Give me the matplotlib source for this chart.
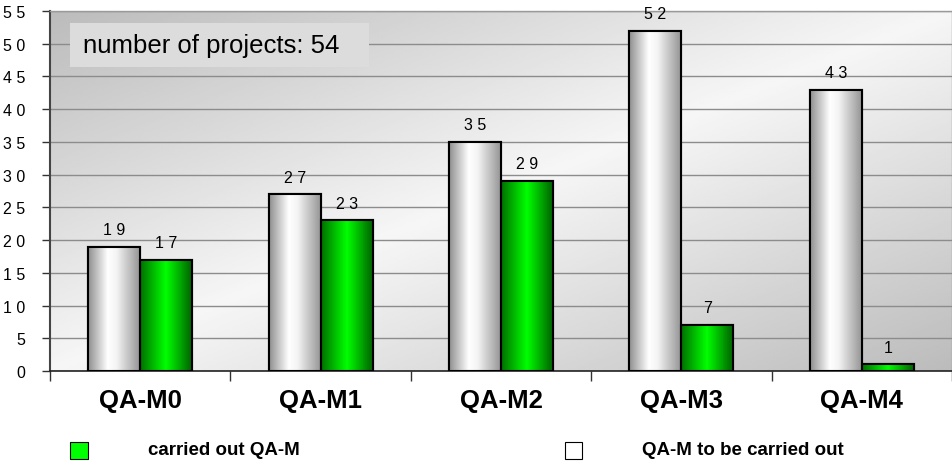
import numpy as np
import matplotlib
matplotlib.use("Agg")
import matplotlib.pyplot as plt
from matplotlib.colors import LinearSegmentedColormap
from matplotlib.patches import Rectangle

categories = ["QA-M0", "QA-M1", "QA-M2", "QA-M3", "QA-M4"]
to_be_carried = [19, 27, 35, 52, 43]
carried_out = [17, 23, 29, 7, 1]
yticks = [0, 5, 10, 15, 20, 25, 30, 35, 40, 45, 50, 55]
label_to_be = "QA-M to be carried out"
label_carried = "carried out QA-M"
info_text = "number of projects: 54"

plt.rcParams['font.family'] = ['Liberation Sans', 'DejaVu Sans']

fig = plt.figure(figsize=(9.53, 4.64), dpi=100)
ax = fig.add_axes([50/953, 1-372/464, 902/953, 360/464])
n = len(categories)
ax.set_xlim(-0.5, n - 0.5)
ax.set_ylim(0, 55)

# background diagonal gradient
xx, yy = np.meshgrid(np.linspace(0, 1, 300), np.linspace(0, 1, 200))
d = np.abs(xx + yy - 1.0)
bg = 0.965 - 0.23 * d
ax.imshow(bg, cmap='gray', vmin=0, vmax=1, extent=(0, 1, 0, 1), transform=ax.transAxes,
          aspect='auto', zorder=0, origin='upper', interpolation='bilinear')

ax.set_yticks(yticks)
ax.set_yticklabels([" ".join(str(v)) for v in yticks], fontsize=11.5)
ax.yaxis.grid(True, color='#8c8c8c', linewidth=1.0, zorder=1)
ax.set_axisbelow(True)
ax.tick_params(axis='y', length=6, width=1, pad=12, color='#333333')

ax.set_xticks(np.arange(n))
ax.set_xticklabels(categories, fontsize=18.5, fontweight='bold')
ax.tick_params(axis='x', length=0, pad=12)
ax.set_xticks(np.arange(n + 1) - 0.5, minor=True)
ax.tick_params(axis='x', which='minor', length=7, width=1, color='#333333')

for s in ['top', 'right']:
    ax.spines[s].set_color('#9a9a9a')
    ax.spines[s].set_linewidth(1.0)
ax.spines['left'].set_color('#444444')
ax.spines['left'].set_linewidth(1.5)
ax.spines['bottom'].set_color('#222222')
ax.spines['bottom'].set_linewidth(1.2)

w = 0.288
x = np.arange(n)
gray_cmap = LinearSegmentedColormap.from_list('g', [(0, '#8e8e8e'), (0.38, '#ffffff'), (0.55, '#f4f4f4'), (1, '#959595')])
green_cmap = LinearSegmentedColormap.from_list('gr', [(0, '#007000'), (0.5, '#00ff00'), (1, '#006200')])
grad = np.linspace(0, 1, 256).reshape(1, -1)

b1 = ax.bar(x - w/2, to_be_carried, width=w, color='white', edgecolor='black', linewidth=1.5, zorder=3, label=label_to_be)
b2 = ax.bar(x + w/2, carried_out, width=w, color='#00ff00', edgecolor='black', linewidth=1.5, zorder=3, label=label_carried)

for bars, cmap in ((b1, gray_cmap), (b2, green_cmap)):
    for r in bars:
        x0, y0 = r.get_x(), r.get_y()
        im = ax.imshow(grad, cmap=cmap, extent=(x0, x0 + r.get_width(), y0, y0 + r.get_height()),
                       aspect='auto', zorder=3.5, interpolation='bilinear')
        im.set_clip_path(r)
        edge = Rectangle((x0, y0), r.get_width(), r.get_height(), fill=False, edgecolor='black',
                         linewidth=1.5, zorder=4)
        ax.add_patch(edge)

for r, v in zip(b1, to_be_carried):
    ax.annotate(" ".join(str(v)), (r.get_x() + r.get_width()/2, v), xytext=(0, 7), textcoords='offset points',
                ha='center', va='bottom', fontsize=11.5, zorder=5)
for r, v in zip(b2, carried_out):
    ax.annotate(" ".join(str(v)), (r.get_x() + r.get_width()/2, v), xytext=(0, 7), textcoords='offset points',
                ha='center', va='bottom', fontsize=11.5, zorder=5)

ax.set_xlim(-0.5, n - 0.5)
ax.set_ylim(0, 55)

# info box
ax.add_patch(Rectangle((70/953, 1-68/464), 299/953, 44/464, transform=fig.transFigure,
                       facecolor='#dcdcdc', edgecolor='none', zorder=5))
fig.text(83/953, 1-46/464, info_text, fontsize=18.5, va='center', ha='left', zorder=6)

# legend
fig.patches.append(Rectangle((70/953, 1-460/464), 18/953, 17/464, transform=fig.transFigure,
                             facecolor='#00ff00', edgecolor='black', linewidth=0.8))
fig.text(148/953, 1-451/464, label_carried, fontsize=13.5, fontweight='bold', va='center', ha='left')
fig.patches.append(Rectangle((565/953, 1-460/464), 17/953, 17/464, transform=fig.transFigure,
                             facecolor='white', edgecolor='black', linewidth=0.8))
fig.text(642/953, 1-451/464, label_to_be, fontsize=13.5, fontweight='bold', va='center', ha='left')

fig.savefig("out.png", dpi=100)
